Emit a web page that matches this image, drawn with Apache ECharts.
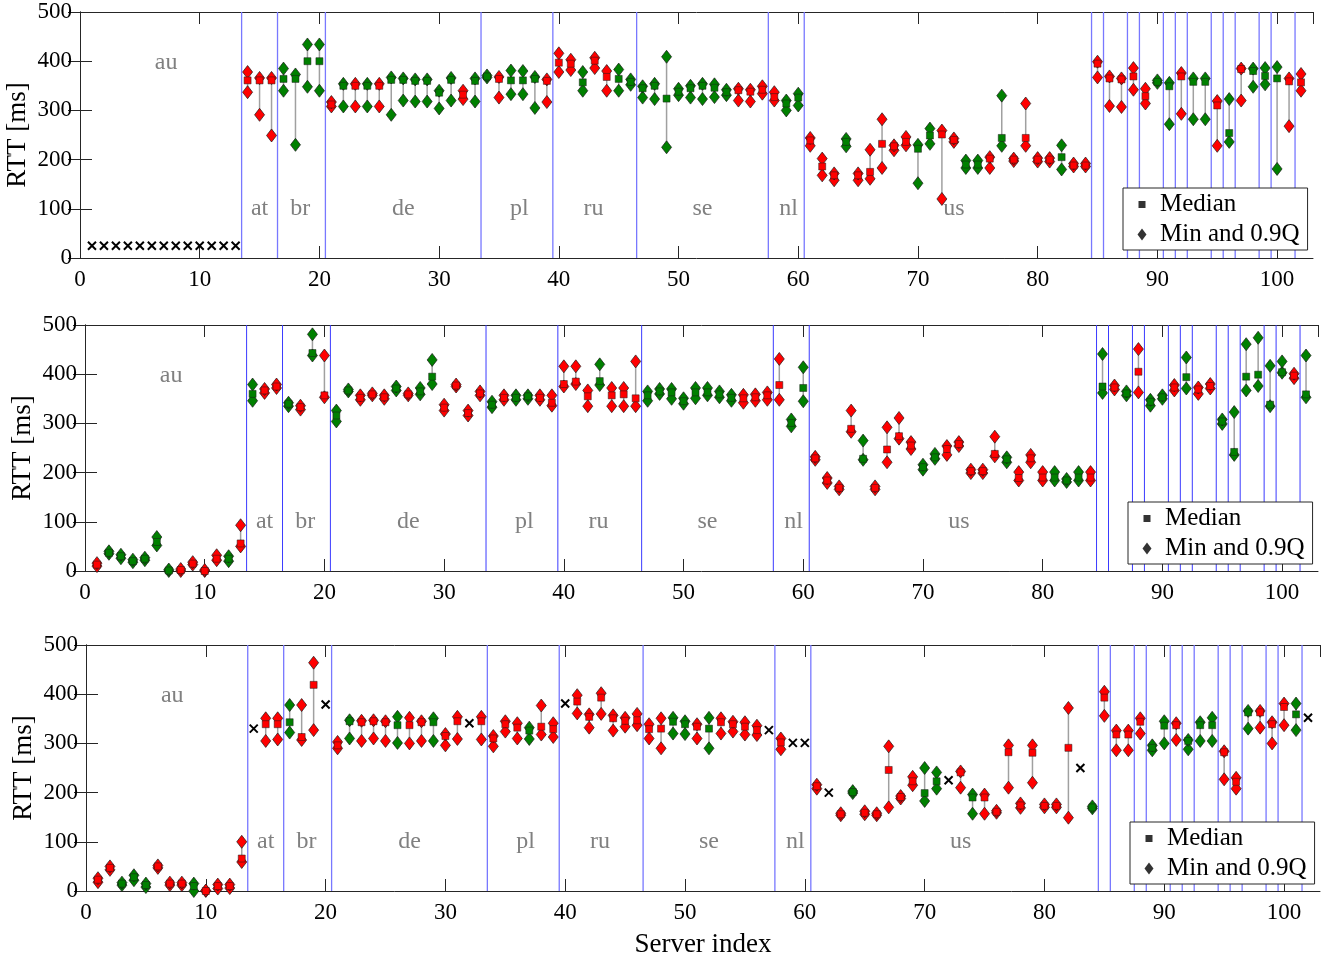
<!DOCTYPE html>
<html><head><meta charset="utf-8">
<script src="https://cdn.jsdelivr.net/npm/echarts@6/dist/echarts.min.js"></script>
<style>html,body{margin:0;padding:0;background:#fff}#c{width:1331px;height:963px}</style>
</head><body><div id="c"></div>
<script>
// ---------- DATA ----------
// type per server (index 1..102): r = red, g = green, x = cross (no data)
const p1Type = ('xxxxxxxxxx'+'xxxrrrgggg'+'rgrgrggggg'+'grggrgggrr'+'rgrrgggggg'+'ggggrrrrgg'+'rrrgrrrrrg'+'grrggrgrrr'+'rgrrrrrrrg'+'grggrgrggg'+'rr').split('');
const p1Min = [null,null,null,null,null,null,null,null,null,null,
  null,null,null,337,291,249,340,230,348,340,
  308,308,308,308,308,291,320,318,318,304,
  320,323,318,367,326,333,333,305,317,378,
  382,340,386,340,340,352,326,323,225,331,
  326,323,327,331,320,318,334,320,300,310,
  228,168,158,227,158,161,183,219,229,152,
  232,120,236,183,183,183,228,197,228,196,
  196,180,186,186,367,309,307,342,314,356,
  272,293,282,282,228,236,320,348,353,181,
  268,340];
const p1Med = [25,25,25,25,25,25,25,25,25,25,
  25,25,25,361,361,361,364,364,400,400,
  312,350,350,350,350,362,362,360,360,336,
  362,332,360,369,364,361,361,364,360,397,
  395,357,401,368,364,358,345,350,324,338,
  345,350,346,337,341,338,342,327,314,326,
  239,186,168,236,168,175,232,227,236,222,
  249,251,240,190,190,202,244,200,244,200,
  200,205,188,188,395,365,363,369,329,358,
  349,369,358,358,310,254,384,380,370,365,
  359,357];
const p1Q90 = [null,null,null,null,null,null,null,null,null,null,
  null,null,null,378,366,366,385,373,434,434,
  317,354,354,354,354,367,365,363,363,340,
  366,340,365,371,368,381,380,368,363,416,
  403,378,407,380,383,363,349,354,409,344,
  350,354,353,342,344,342,349,337,320,334,
  244,202,172,242,172,220,282,229,246,230,
  263,259,243,198,198,205,330,202,314,203,
  203,229,192,192,399,369,365,386,344,361,
  356,376,365,365,319,323,385,385,386,388,
  365,374];

const p2Type = ('rggggggrrr'+'rgrgrrgrgr'+'ggrrrgrggr'+'rrrgrggrrr'+'rrgrrrgggg'+'ggggrrrrgg'+'rrrrgrrrrg'+'grrrrrgrrr'+'gggrgrgrgg'+'rgrrgggggg'+'rg').split('');
const p2Min = [10,35,26,18,22,52,0,0,13,0,
  22,20,50,346,362,372,335,328,438,353,
  304,365,348,357,350,367,357,359,380,326,
  375,316,357,333,348,348,350,348,336,375,
  380,335,378,335,335,335,346,360,350,340,
  351,357,353,346,342,346,348,348,294,345,
  226,179,166,283,226,166,221,269,248,206,
  228,236,254,199,199,233,221,184,221,184,
  184,181,184,184,362,369,357,363,336,350,
  367,371,360,371,299,236,367,376,335,403,
  392,353];
const p2Med = [13,37,30,20,25,59,1,2,15,0,
  25,25,56,360,367,375,340,333,443,357,
  316,367,352,359,353,371,359,365,395,332,
  377,321,361,338,352,352,355,352,342,380,
  385,355,386,357,359,351,357,365,363,345,
  363,363,359,352,351,353,357,378,301,372,
  229,184,169,289,228,169,247,274,255,211,
  231,248,258,203,203,238,227,189,229,190,
  190,184,190,190,375,373,361,405,344,353,
  373,394,369,376,304,242,395,399,338,404,
  397,359];
const p2Q90 = [16,40,33,23,27,69,3,4,18,2,
  32,30,93,379,370,379,342,336,481,438,
  326,369,357,361,357,375,361,372,429,338,
  379,326,365,344,357,357,357,357,357,416,
  416,367,420,372,372,426,365,370,370,351,
  372,372,365,358,358,359,363,431,308,414,
  232,189,172,326,265,172,292,311,262,216,
  238,254,262,206,206,273,231,201,236,201,
  201,187,201,201,441,377,365,451,348,357,
  378,434,373,380,308,323,461,474,417,426,
  401,438];

const p3Type = ('rrgggrrrgr'+'rrrxrrgrrx'+'rgrrrgrrgr'+'rxrrrrgrrx'+'rrrrrrrrgg'+'rgrrrrxrxx'+'rxrgrrrrrg'+'gxrgrrrrrr'+'rrxgrrrrgg'+'rgggrrgrrr'+'gx').split('');
const p3Min = [18,43,12,22,8,47,12,12,0,0,
  5,6,59,null,305,308,322,307,327,null,
  290,310,305,310,305,301,300,305,305,296,
  309,null,308,294,324,310,309,318,313,null,
  361,332,360,326,334,337,310,290,320,319,
  310,290,320,324,318,317,null,288,null,null,
  208,null,154,199,156,154,170,188,215,183,
  208,null,210,157,157,159,210,169,220,170,
  170,149,null,168,356,286,286,320,286,300,
  307,288,305,305,227,208,330,332,300,337,
  327,null];
const p3Med = [23,47,15,28,12,50,15,15,10,0,
  10,10,66,330,339,339,343,313,419,379,
  296,345,343,345,343,337,337,343,343,315,
  345,341,345,310,339,332,326,334,329,381,
  385,354,393,351,346,347,329,330,344,339,
  334,330,343,339,334,327,327,302,301,301,
  213,200,156,201,159,156,246,191,223,199,
  223,225,241,190,190,161,282,174,281,173,
  173,291,250,170,393,318,318,344,291,336,
  337,305,337,337,282,222,363,363,339,374,
  359,352];
const p3Q90 = [26,50,17,32,15,52,17,17,15,1,
  13,13,100,null,351,351,378,378,464,null,
  303,347,346,347,345,354,352,345,351,319,
  354,null,354,315,345,341,332,377,341,null,
  398,359,402,357,352,360,339,351,352,345,
  339,352,351,344,343,336,null,310,null,null,
  216,null,158,203,162,158,294,193,232,250,
  241,null,243,196,196,163,296,178,296,176,
  176,372,null,172,405,326,326,351,296,345,
  341,307,343,352,284,230,366,366,343,381,
  381,null];

const separators = [13.5,16.5,20.5,33.5,39.5,46.5,57.5,60.5,84.5,85.5,87.5,88.5,90.5,91.5,92.5,94.5,95.5,96.5,98.5,99.5,101.5];
const countryNames = ['au','at','br','de','pl','ru','se','nl','us'];
const countryX = [7.2,15,18.4,27,36.7,42.9,52,59.2,73];
const countryY = [397,100,100,100,100,100,100,100,100];
const xTickValues = [0,10,20,30,40,50,60,70,80,90,100];
const yTickValues = [0,100,200,300,400,500];

// ---------- CHART ----------
const FONT = "'Liberation Serif','Times New Roman',serif";
const RED = '#ff0000', GREEN = '#008000', AXC = '#262626';
const grids = [
  {left:80, top:12, width:1233, height:246},
  {left:85, top:325, width:1233, height:246},
  {left:86, top:645, width:1234, height:246}
];
const legendPos = [{left:1123, top:188},{left:1128, top:502},{left:1130, top:822}];
const sepStyle = [{c:'#7878ff', w:1.3},{c:'#3a3aff', w:1},{c:'#7878ff', w:1.3}];
const panels = [
  {type:p1Type, mn:p1Min, md:p1Med, q:p1Q90},
  {type:p2Type, mn:p2Min, md:p2Med, q:p2Q90},
  {type:p3Type, mn:p3Min, md:p3Med, q:p3Q90}
];

const xAxes = [], yAxes = [], series = [], legends = [];
panels.forEach((p, i) => {
  const baseX = {gridIndex:i, type:'value', min:0, max:103, interval:10,
    splitLine:{show:false},
    axisLine:{show:true, onZero:false, lineStyle:{color:AXC, width:1}},
    axisTick:{show:true, inside:true, length:12, lineStyle:{color:AXC}},
  };
  xAxes.push(Object.assign({}, baseX, {position:'bottom',
    axisLabel:{show:true, fontFamily:FONT, fontSize:23, color:'#000', margin:10,
      showMaxLabel:false, formatter:v => (xTickValues.indexOf(v) >= 0 ? String(v) : '')},
    name: i === 2 ? 'Server index' : '', nameLocation:'middle', nameGap:40,
    nameTextStyle:{fontFamily:FONT, fontSize:27, color:'#000'}}));
  xAxes.push(Object.assign({}, baseX, {position:'top', axisLabel:{show:false}}));
  const baseY = {gridIndex:i, type:'value', min:0, max:500, interval:100,
    splitLine:{show:false},
    axisLine:{show:true, lineStyle:{color:AXC, width:1}},
    axisTick:{show:true, inside:true, length:12, lineStyle:{color:AXC}}};
  yAxes.push(Object.assign({}, baseY, {position:'left',
    axisLabel:{show:true, fontFamily:FONT, fontSize:23, color:'#000', margin:8,
      formatter:v => (yTickValues.indexOf(v) >= 0 ? String(v) : '')},
    name:'RTT [ms]', nameLocation:'middle', nameGap:49, nameMoveOverlap:false,
    nameTextStyle:{fontFamily:FONT, fontSize:27, color:'#000'}}));
  yAxes.push(Object.assign({}, baseY, {position:'right', axisLabel:{show:false}}));

  const xi = i*2, yi = i*2;
  // separators
  series.push({type:'custom', xAxisIndex:xi, yAxisIndex:yi, z:1, silent:true,
    data: separators.map(s => [s]),
    renderItem:(params, api) => {
      const a = api.coord([api.value(0), 0]), b = api.coord([api.value(0), 500]);
      return {type:'line', shape:{x1:a[0], y1:a[1], x2:b[0], y2:b[1]},
        style:{stroke:sepStyle[i].c, lineWidth:sepStyle[i].w}};
    }});
  // country labels
  series.push({type:'custom', xAxisIndex:xi, yAxisIndex:yi, z:1, silent:true,
    data: countryNames.map((n, k) => [countryX[k], countryY[k], n]),
    renderItem:(params, api) => {
      const pt = api.coord([api.value(0), api.value(1)]);
      return {type:'text', x:pt[0], y:pt[1],
        style:{text:countryNames[params.dataIndex], fill:'#808080', fontSize:24, fontFamily:FONT,
          align:'center', verticalAlign:'middle'}};
    }});
  // range lines
  const rng = [];
  p.type.forEach((t, k) => { if (t !== 'x' && p.mn[k] != null) rng.push([k+1, p.mn[k], p.q[k]]); });
  series.push({type:'custom', xAxisIndex:xi, yAxisIndex:yi, z:2, silent:true, data:rng,
    renderItem:(params, api) => {
      const a = api.coord([api.value(0), api.value(1)]), b = api.coord([api.value(0), api.value(2)]);
      return {type:'line', shape:{x1:a[0], y1:a[1], x2:b[0], y2:b[1]},
        style:{stroke:'#a0a0a0', lineWidth:1.5}};
    }});
  // diamonds and squares
  ['r','g'].forEach(col => {
    const dm = [], sq = [];
    p.type.forEach((t, k) => {
      if (t === col) { dm.push([k+1, p.mn[k]]); dm.push([k+1, p.q[k]]); sq.push([k+1, p.md[k]]); }
    });
    const color = col === 'r' ? RED : GREEN;
    series.push({type:'scatter', xAxisIndex:xi, yAxisIndex:yi, z:3, silent:true, data:dm,
      symbol:'diamond', symbolSize:[10,13],
      itemStyle:{color:color, borderColor:'#1a1a1a', borderWidth:0.7, opacity:1}});
    series.push({type:'scatter', xAxisIndex:xi, yAxisIndex:yi, z:4, silent:true, data:sq,
      symbol:'rect', symbolSize:7,
      itemStyle:{color:color, borderColor:'#1a1a1a', borderWidth:0.5, opacity:1}});
  });
  // crosses
  const cr = [];
  p.type.forEach((t, k) => { if (t === 'x') cr.push([k+1, p.md[k]]); });
  series.push({type:'scatter', xAxisIndex:xi, yAxisIndex:yi, z:4, silent:true, data:cr,
    symbol:'path://M0,0L10,10M10,0L0,10', symbolSize:8,
    itemStyle:{color:'rgba(0,0,0,0)', borderColor:'#000', borderWidth:2, opacity:1}});

  legends.push({orient:'vertical', left:legendPos[i].left, top:legendPos[i].top,
    backgroundColor:'#fff', borderColor:AXC, borderWidth:1, padding:[3,8,2,12],
    itemGap:3, itemWidth:20, itemHeight:14, selectedMode:false,
    textStyle:{fontFamily:FONT, fontSize:25, color:'#000', lineHeight:27},
    data:[{name:'Median', icon:'path://M0,0M20,14M3.5,3.5h7v7h-7z'},
          {name:'Min and 0.9Q', icon:'path://M0,0M20,14M7,1L11.5,7L7,13L2.5,7Z'}]});
});
series.push({type:'scatter', name:'Median', xAxisIndex:0, yAxisIndex:0, data:[], symbol:'rect',
  itemStyle:{color:'#000', borderWidth:0}});
series.push({type:'scatter', name:'Min and 0.9Q', xAxisIndex:0, yAxisIndex:0, data:[], symbol:'diamond',
  itemStyle:{color:'#000', borderWidth:0}});

const chart = echarts.init(document.getElementById('c'), null, {renderer:'canvas'});
chart.setOption({
  animation:false,
  backgroundColor:'#fff',
  grid:grids.map(g => Object.assign({containLabel:false, outerBoundsMode:'none'}, g)),
  xAxis:xAxes, yAxis:yAxes, legend:legends, series:series
});
</script></body></html>
